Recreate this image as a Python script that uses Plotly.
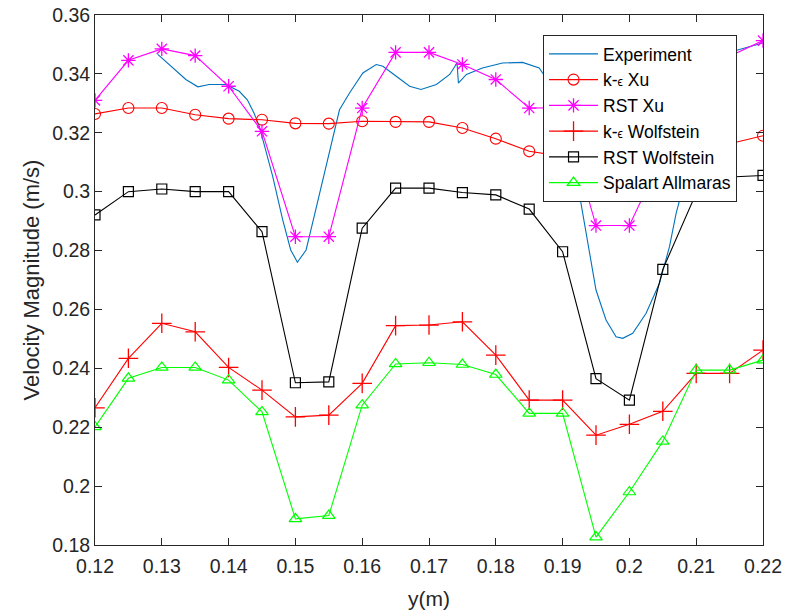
import plotly.graph_objects as go

# Measurement positions for the simulated profiles (m)
y_pos = [0.12, 0.125, 0.13, 0.135, 0.14, 0.145, 0.15, 0.155, 0.16, 0.165, 0.17,
         0.175, 0.18, 0.185, 0.19, 0.195, 0.2, 0.205, 0.21, 0.215, 0.22]

# Velocity magnitude (m/s) for each turbulence model
ke_xu = [0.3264, 0.3284, 0.3284, 0.3261, 0.3248, 0.3244, 0.3232, 0.3231, 0.3239, 0.3237, 0.3237,
         0.3216, 0.3180, 0.3137, 0.3120, 0.3110, 0.3110, 0.3120, 0.3140, 0.3163, 0.3190]
rst_xu = [0.3310, 0.3446, 0.3485, 0.3462, 0.3358, 0.3205, 0.2847, 0.2847, 0.3284, 0.3473, 0.3473,
          0.3432, 0.3381, 0.3284, 0.3285, 0.2885, 0.2885, 0.3125, 0.3380, 0.3460, 0.3513]
ke_wolf = [0.2266, 0.2434, 0.2553, 0.2524, 0.2403, 0.2326, 0.2235, 0.2241, 0.2349, 0.2545, 0.2547,
           0.2558, 0.2445, 0.2292, 0.2292, 0.2173, 0.2210, 0.2254, 0.2383, 0.2383, 0.2462]
rst_wolf = [0.2921, 0.3000, 0.3009, 0.3000, 0.3000, 0.2864, 0.2351, 0.2354, 0.2876, 0.3012, 0.3012,
            0.2997, 0.2989, 0.2941, 0.2796, 0.2365, 0.2292, 0.2736, 0.2995, 0.3050, 0.3055]
spalart = [0.2201, 0.2366, 0.2403, 0.2403, 0.2360, 0.2252, 0.1889, 0.1900, 0.2275, 0.2415, 0.2419,
           0.2413, 0.2379, 0.2247, 0.2247, 0.1827, 0.1980, 0.2152, 0.2394, 0.2394, 0.2428]

# Experimental profile
exp_y = [0.1294, 0.1316, 0.1336, 0.1354, 0.1371, 0.1396, 0.1416, 0.1428, 0.1438, 0.1446,
         0.1466, 0.1481, 0.1493, 0.1503, 0.1516, 0.1528, 0.1541, 0.1556, 0.1566, 0.1581,
         0.1601, 0.1621, 0.1631, 0.1651, 0.1671, 0.1688, 0.1711, 0.1731, 0.1742, 0.1744,
         0.1756, 0.1780, 0.1810, 0.1840, 0.1865, 0.1870, 0.1890, 0.1910, 0.1925, 0.1938,
         0.1950, 0.1965, 0.1980, 0.1990, 0.2005, 0.2025, 0.2045, 0.2060, 0.2070, 0.2078,
         0.2095, 0.2110, 0.2130, 0.2155, 0.2200]
exp_v = [0.3466, 0.3420, 0.3381, 0.3356, 0.3364, 0.3364, 0.3341, 0.3312, 0.3267, 0.3222,
         0.3052, 0.2904, 0.2802, 0.2760, 0.2802, 0.2915, 0.3040, 0.3176, 0.3278, 0.3335,
         0.3403, 0.3432, 0.3426, 0.3392, 0.3358, 0.3347, 0.3364, 0.3398, 0.3437, 0.3369,
         0.3398, 0.3420, 0.3437, 0.3439, 0.3420, 0.3403, 0.3340, 0.3190, 0.2993, 0.2836,
         0.2666, 0.2564, 0.2507, 0.2502, 0.2519, 0.2587, 0.2689, 0.2813, 0.2927, 0.2995,
         0.3250, 0.3410, 0.3465, 0.3477, 0.3505]

x_ticks = [0.12, 0.13, 0.14, 0.15, 0.16, 0.17, 0.18, 0.19, 0.2, 0.21, 0.22]
x_tick_text = ["0.12", "0.13", "0.14", "0.15", "0.16", "0.17", "0.18", "0.19", "0.2", "0.21", "0.22"]
y_ticks = [0.18, 0.2, 0.22, 0.24, 0.26, 0.28, 0.3, 0.32, 0.34, 0.36]
y_tick_text = ["0.18", "0.2", "0.22", "0.24", "0.26", "0.28", "0.3", "0.32", "0.34", "0.36"]

EPS = '<span style="font-size:12px">ϵ</span>'
FONT = "Liberation Sans, Arial, sans-serif"
AX = "#262626"

fig = go.Figure()
fig.add_trace(go.Scatter(x=exp_y, y=exp_v, mode="lines", name="Experiment",
                         line=dict(color="#0072BD", width=1.1)))
fig.add_trace(go.Scatter(x=y_pos, y=ke_xu, mode="lines+markers", name="k-" + EPS + " Xu",
                         line=dict(color="#FF0000", width=1.1),
                         marker=dict(symbol="circle-open", size=11, color="#FF0000",
                                     line=dict(width=1.1))))
fig.add_trace(go.Scatter(x=y_pos, y=rst_xu, mode="lines+markers", name="RST Xu",
                         line=dict(color="#FF00FF", width=1.1),
                         marker=dict(symbol="asterisk-open", size=12, color="#FF00FF",
                                     line=dict(width=1.3, color="#FF00FF"))))
fig.add_trace(go.Scatter(x=y_pos, y=ke_wolf, mode="lines+markers", name="k-" + EPS + " Wolfstein",
                         line=dict(color="#FF0000", width=1.1),
                         marker=dict(symbol="cross-thin-open", size=14, color="#FF0000",
                                     line=dict(width=1.3, color="#FF0000"))))
fig.add_trace(go.Scatter(x=y_pos, y=rst_wolf, mode="lines+markers", name="RST Wolfstein",
                         line=dict(color="#000000", width=1.1),
                         marker=dict(symbol="square-open", size=10, color="#000000",
                                     line=dict(width=1.2))))
fig.add_trace(go.Scatter(x=y_pos, y=spalart, mode="lines+markers", name="Spalart Allmaras",
                         line=dict(color="#00FF00", width=1.1),
                         marker=dict(symbol="triangle-up-open", size=11, color="#00FF00",
                                     line=dict(width=1.2))))

axis_common = dict(showline=True, linecolor=AX, linewidth=1, mirror="ticks",
                   ticks="inside", ticklen=7, tickcolor=AX, tickwidth=1,
                   showgrid=False, zeroline=False, automargin=False,
                   tickfont=dict(family=FONT, size=19.5, color=AX))

fig.update_xaxes(range=[0.12, 0.22], tickvals=x_ticks, ticktext=x_tick_text,
                 ticklabelstandoff=4,
                 title=dict(text="y(m)", font=dict(family=FONT, size=21, color=AX), standoff=14),
                 **axis_common)
fig.update_yaxes(range=[0.18, 0.36], tickvals=y_ticks, ticktext=y_tick_text,
                 title=dict(text="Velocity Magnitude (m/s)", font=dict(family=FONT, size=22, color=AX),
                            standoff=6),
                 **axis_common)

fig.update_layout(
    width=786, height=616, autosize=False,
    margin=dict(l=95, r=23, t=15, b=71),
    plot_bgcolor="white", paper_bgcolor="white",
    font=dict(family=FONT, color="#000000"),
    legend=dict(x=0.6707, y=0.9623, xanchor="left", yanchor="top",
                bgcolor="white", bordercolor=AX, borderwidth=1,
                font=dict(family=FONT, size=17.5, color="#000000"),
                itemwidth=49, tracegroupgap=0),
    showlegend=True,
)

fig.write_html("out.html")
